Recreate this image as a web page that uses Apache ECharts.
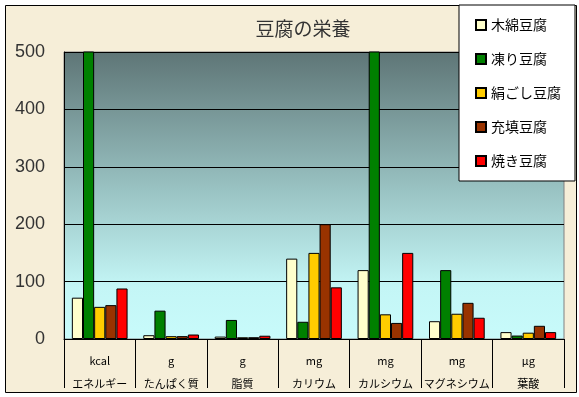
<!DOCTYPE html>
<html>
<head>
<meta charset="utf-8">
<script src="https://cdn.jsdelivr.net/npm/echarts@6/dist/echarts.min.js"></script>
<style>
    html, body {margin: 0; padding: 0; background: #fff;}
    #main {width: 579px; height: 397px;}
</style>
</head>
<body>
<div id="main"></div>
<script>
// 栄養素（カテゴリ）と単位
var categories = ['エネルギー', 'たんぱく質', '脂質', 'カリウム', 'カルシウム', 'マグネシウム', '葉酸'];
var units = ['kcal', 'g', 'g', 'mg', 'mg', 'mg', 'μg'];

// 各豆腐の値
var momen = [72, 6.6, 4.2, 140, 120, 31, 12];
var kori = [529, 49.4, 33.2, 30, 660, 120, 6];
var kinugoshi = [56, 4.9, 3.0, 150, 43, 44, 11];
var juten = [59, 5.0, 3.1, 200, 28, 63, 23];
var yaki = [88, 7.8, 5.7, 90, 150, 37, 12];

var seriesNames = ['木綿豆腐', '凍り豆腐', '絹ごし豆腐', '充填豆腐', '焼き豆腐'];
var seriesColors = ['#ffffcc', '#008000', '#ffcc00', '#993300', '#ff0000'];
var seriesData = [momen, kori, kinugoshi, juten, yaki];

var yTicks = [0, 100, 200, 300, 400, 500];

var font = '"Noto Sans CJK JP", "Noto Sans", sans-serif';

var series = [];
for (var i = 0; i < seriesNames.length; i++) {
    series.push({
        name: seriesNames[i],
        type: 'bar',
        data: seriesData[i],
        barGap: '0%',
        barCategoryGap: '22%',
        itemStyle: {
            color: seriesColors[i],
            borderColor: '#000',
            borderWidth: 1
        }
    });
}

var option = {
    animation: false,
    backgroundColor: '#fff',
    textStyle: {fontFamily: font},
    graphic: [{
        type: 'rect',
        z: -100,
        shape: {x: 5.5, y: 5.5, width: 571, height: 387},
        style: {fill: '#f6eed8', stroke: '#000', lineWidth: 1}
    }],
    title: {
        text: '豆腐の栄養',
        left: 298,
        top: 14,
        textAlign: 'center',
        textStyle: {fontFamily: font, fontSize: 19, fontWeight: 'normal', color: '#333'}
    },
    legend: {
        orient: 'vertical',
        left: 459,
        top: 5,
        data: seriesNames,
        icon: 'rect',
        itemWidth: 10,
        itemHeight: 10,
        itemGap: 20,
        padding: [13, 14, 13, 16],
        backgroundColor: '#fff',
        borderColor: '#000',
        borderWidth: 1,
        borderRadius: 0,
        textStyle: {fontFamily: font, fontSize: 14, color: '#000'}
    },
    grid: {
        left: 64,
        right: 15,
        top: 52,
        bottom: 58,
        show: true,
        borderColor: '#808080',
        borderWidth: 1,
        backgroundColor: {
            type: 'linear', x: 0, y: 0, x2: 0, y2: 1,
            colorStops: [
                {offset: 0, color: '#5e7576'},
                {offset: 0.5, color: '#9cc6c6'},
                {offset: 0.82, color: '#c4f6f6'},
                {offset: 1, color: '#c8fbfb'}
            ]
        }
    },
    xAxis: {
        type: 'category',
        data: categories,
        axisLine: {lineStyle: {color: '#000', width: 1}},
        axisTick: {show: true, length: 49, lineStyle: {color: '#000'}},
        axisLabel: {
            margin: 10,
            interval: 0,
            fontFamily: font,
            fontSize: 11,
            color: '#000',
            lineHeight: 23,
            formatter: function (value, idx) {
                return units[idx] + '\n' + value;
            }
        }
    },
    yAxis: {
        type: 'value',
        min: yTicks[0],
        max: yTicks[yTicks.length - 1],
        interval: 100,
        axisLine: {show: true, lineStyle: {color: '#000'}},
        axisTick: {show: true, inside: true, length: 6, lineStyle: {color: '#000'}},
        splitLine: {lineStyle: {color: '#000', width: 1}},
        axisLabel: {
            margin: 19,
            fontFamily: '"Liberation Sans", Arial, sans-serif',
            fontSize: 18,
            color: '#333'
        }
    },
    series: series
};

var myChart = echarts.init(document.getElementById('main'));
myChart.setOption(option);
</script>
</body>
</html>
